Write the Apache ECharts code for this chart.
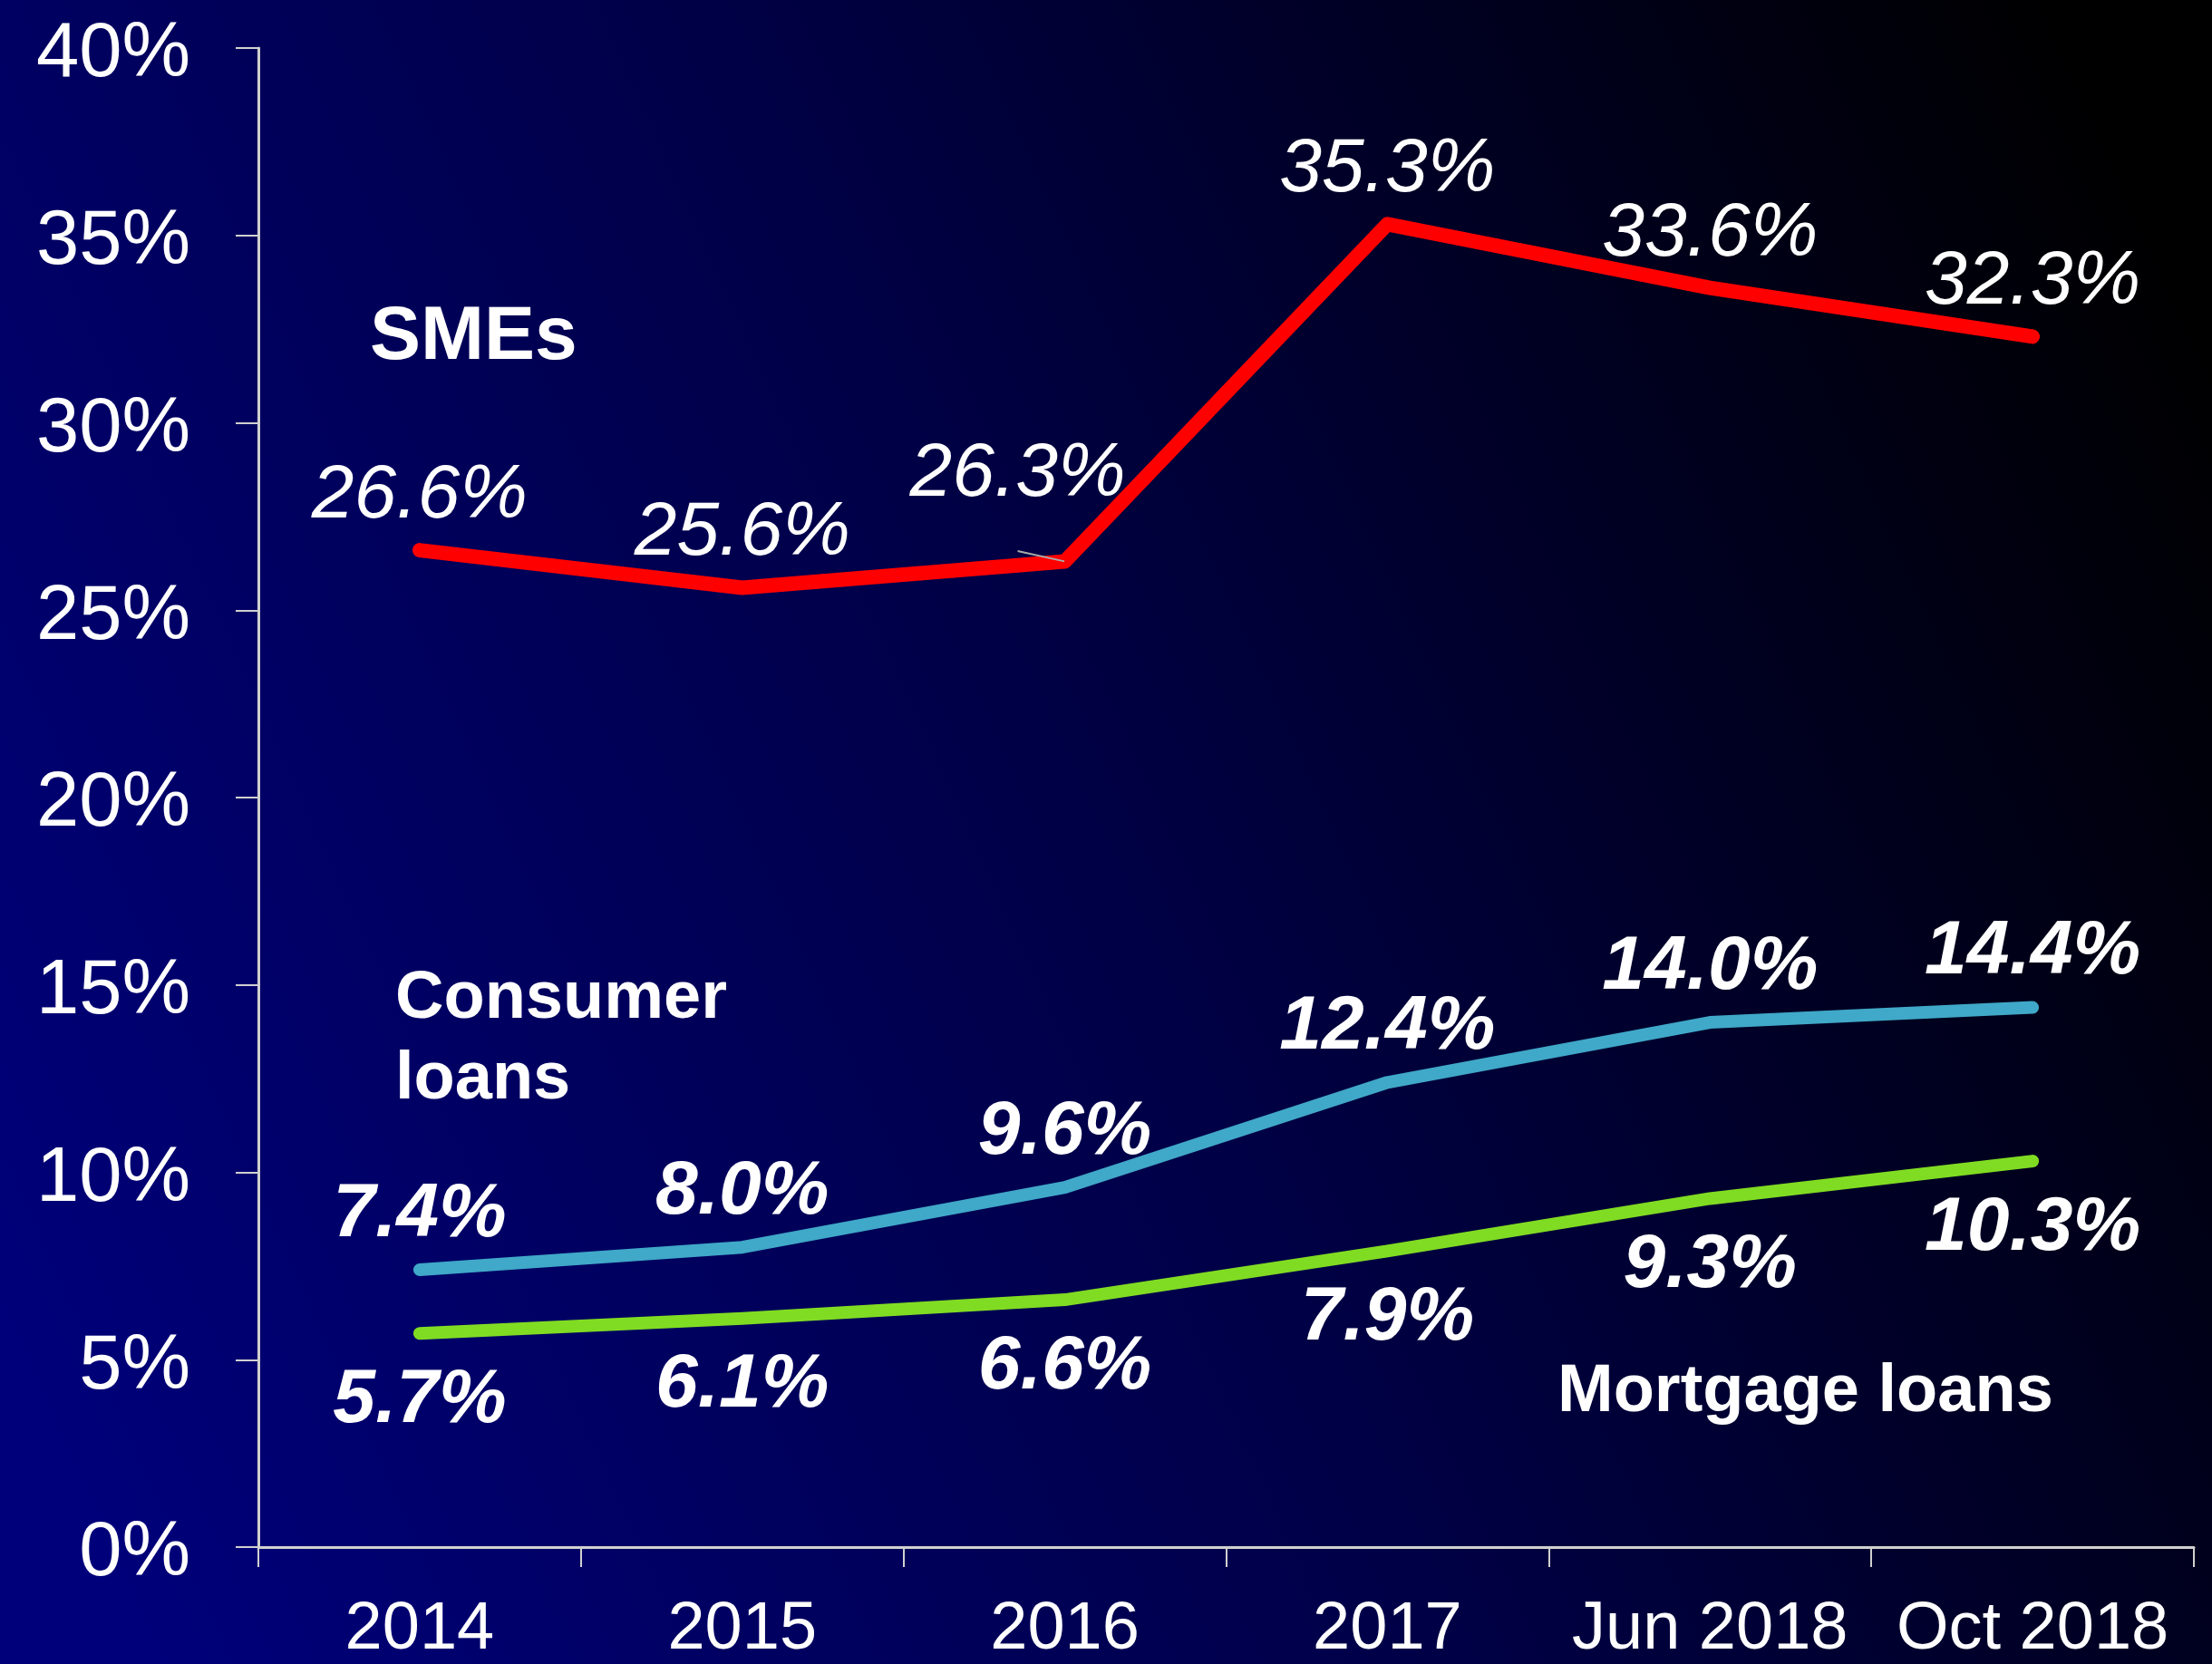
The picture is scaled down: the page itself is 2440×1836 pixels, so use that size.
<!DOCTYPE html>
<html>
<head>
<meta charset="utf-8">
<script src="https://cdn.jsdelivr.net/npm/echarts@6/dist/echarts.min.js"></script>
<style>
html,body{margin:0;padding:0;background:#000;}
#chart{width:2440px;height:1836px;}
</style>
</head>
<body>
<div id="chart"></div>
<script>
// categories and values
var periods = ['2014', '2015', '2016', '2017', 'Jun 2018', 'Oct 2018'];
var smes = [26.6, 25.6, 26.3, 35.3, 33.6, 32.3];
var consumerLoans = [7.4, 8.0, 9.6, 12.4, 14.0, 14.4];
var mortgageLoans = [5.7, 6.1, 6.6, 7.9, 9.3, 10.3];
var yTicks = [0, 5, 10, 15, 20, 25, 30, 35, 40];

var fontName = 'Liberation Sans, Arial, sans-serif';

var myChart = echarts.init(document.getElementById('chart'));

function pct(p) { return p.value.toFixed(1) + '%'; }

// SME series: 2016 label is moved up-left with a small guide line
var smeData = smes.map(function (v, i) {
    if (i === 2) {
        return {
            value: v,
            label: { offset: [-52, -36] },
            labelLine: { show: true, lineStyle: { color: '#aaaaaa', width: 2 } }
        };
    }
    return v;
});

var option = {
    animation: false,
    backgroundColor: {
        type: 'linear', x: 0, y: 0.8, x2: 1, y2: 0.2,
        colorStops: [
            { offset: 0, color: '#00007a' },
            { offset: 0.5, color: '#000045' },
            { offset: 1, color: '#000000' }
        ]
    },
    grid: { left: 285, right: 20, top: 53, bottom: 125, containLabel: false },
    xAxis: {
        type: 'category',
        data: periods,
        boundaryGap: true,
        axisLine: { lineStyle: { color: '#d0d0d0', width: 3 } },
        axisTick: { show: true, interval: 0, length: 22, lineStyle: { color: '#d0d0d0', width: 2 } },
        axisLabel: { interval: 0, color: '#ffffff', fontSize: 74, fontFamily: fontName, margin: 55 },
        splitLine: { show: false }
    },
    yAxis: {
        type: 'value',
        min: yTicks[0],
        max: yTicks[yTicks.length - 1],
        interval: 5,
        axisLine: { show: true, lineStyle: { color: '#d0d0d0', width: 3 } },
        axisTick: { show: true, length: 25, lineStyle: { color: '#d0d0d0', width: 2 } },
        axisLabel: {
            margin: 75,
            formatter: function (v) { return '{t|' + v + '%}'; },
            rich: {
                t: { color: '#ffffff', fontSize: 85, fontFamily: fontName, padding: [16, 0, 0, 0] }
            }
        },
        splitLine: { show: false }
    },
    graphic: [
        { type: 'text', left: 408, top: 331, style: { text: 'SMEs', fill: '#fff', font: 'bold 84px ' + fontName } },
        { type: 'text', left: 436, top: 1058, style: { text: 'Consumer\nloans', fill: '#fff', font: 'bold 74px ' + fontName, lineHeight: 89 } },
        { type: 'text', left: 1718, top: 1500, style: { text: 'Mortgage loans', fill: '#fff', font: 'bold 74px ' + fontName } }
    ],
    series: [
        {
            name: 'SMEs',
            type: 'line',
            data: smeData,
            symbol: 'circle',
            symbolSize: 1,
            itemStyle: { color: '#ff0000' },
            lineStyle: { color: '#ff0000', width: 16, cap: 'round', join: 'round' },
            label: {
                show: true, position: 'top', distance: 17,
                color: '#ffffff', fontSize: 84, fontStyle: 'italic', fontFamily: fontName,
                formatter: pct
            }
        },
        {
            name: 'Consumer loans',
            type: 'line',
            data: consumerLoans,
            symbol: 'circle',
            symbolSize: 1,
            itemStyle: { color: '#40a8c8' },
            lineStyle: { color: '#40a8c8', width: 14, cap: 'round', join: 'round' },
            label: {
                show: true, position: 'top', distance: 18,
                color: '#ffffff', fontSize: 84, fontStyle: 'italic', fontWeight: 'bold', fontFamily: fontName,
                formatter: pct
            }
        },
        {
            name: 'Mortgage loans',
            type: 'line',
            data: mortgageLoans,
            symbol: 'circle',
            symbolSize: 1,
            itemStyle: { color: '#80dc22' },
            lineStyle: { color: '#80dc22', width: 14, cap: 'round', join: 'round' },
            label: {
                show: true, position: 'bottom', distance: 32,
                color: '#ffffff', fontSize: 84, fontStyle: 'italic', fontWeight: 'bold', fontFamily: fontName,
                formatter: pct
            }
        }
    ]
};
myChart.setOption(option);
</script>
</body>
</html>
